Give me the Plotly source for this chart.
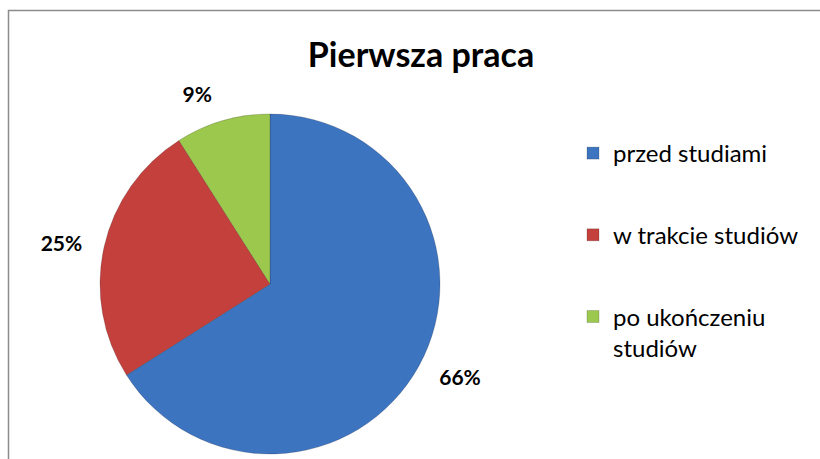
import plotly.graph_objects as go

title_text = "Pierwsza praca"
categories = ["przed studiami", "w trakcie studiów", "po ukończeniu studiów"]
legend_labels = ["przed studiami", "w trakcie studiów", "po ukończeniu<br>studiów"]
values = [66, 25, 9]
colors = ["#3D74C0", "#C4403C", "#9DC84E"]

W, H = 820, 480          # figure is a bit taller than the 459px window; bottom is cropped
cx, cy, r = 270, 284, 170
r_lab = 186  # radius of the invisible pie carrying the outside percent labels

def dom(rad):
    return dict(x=[(cx - rad) / W, (cx + rad) / W],
                y=[(H - cy - rad) / H, (H - cy + rad) / H])

fig = go.Figure()

# invisible, slightly larger pie: only provides the outside percentage labels
fig.add_trace(go.Pie(
    labels=categories, values=values, sort=False, direction="clockwise", rotation=0,
    marker=dict(colors=["rgba(0,0,0,0)"] * len(values), line=dict(width=0)),
    texttemplate="%{percent:.0%}", textposition="outside",
    textfont=dict(family="Lato", size=21, color="#000000", weight="bold"),
    domain=dom(r_lab), showlegend=False, hoverinfo="skip",
))

# visible pie
fig.add_trace(go.Pie(
    labels=categories, values=values, sort=False, direction="clockwise", rotation=0,
    marker=dict(colors=colors, line=dict(color="rgba(0,0,0,0.18)", width=1)),
    textinfo="none", domain=dom(r), showlegend=False,
    hoverinfo="label+percent",
))

# legend entries
for lab, col, cat in zip(legend_labels, colors, categories):
    fig.add_trace(go.Scatter(
        x=[None], y=[None], mode="markers", name=lab, legendgroup=cat,
        marker=dict(symbol="square", size=12, color=col,
                    line=dict(color="rgba(0,0,0,0.35)", width=0.5)),
        hoverinfo="skip",
    ))

fig.update_layout(
    width=W, height=H,
    margin=dict(l=0, r=0, t=0, b=0),
    paper_bgcolor="white",
    plot_bgcolor="white",
    xaxis=dict(visible=False), yaxis=dict(visible=False),
    font=dict(family="Lato", color="#000000"),
    title=dict(text="<b>" + title_text + "</b>", x=421 / W, xanchor="center",
               y=1 - 55 / H, yanchor="middle",
               font=dict(family="Lato", size=34, color="#000000")),
    legend=dict(x=573 / W, xanchor="left", y=1 - 131 / H, yanchor="top",
                font=dict(family="Lato", size=24, color="#000000"),
                valign="top", bgcolor="rgba(0,0,0,0)", tracegroupgap=47.5,
                itemclick=False, itemdoubleclick=False),
    shapes=[dict(type="rect", xref="paper", yref="paper",
                 x0=8.5 / W, x1=1.05, y0=-0.05, y1=1 - 10.5 / H,
                 line=dict(color="#8C8C8C", width=1.5), fillcolor="rgba(0,0,0,0)")],
)

fig.write_html("out.html", config={"displayModeBar": False},
               post_script="document.body.style.margin='0';document.body.style.overflow='hidden';"
                           "document.documentElement.style.overflow='hidden';")
